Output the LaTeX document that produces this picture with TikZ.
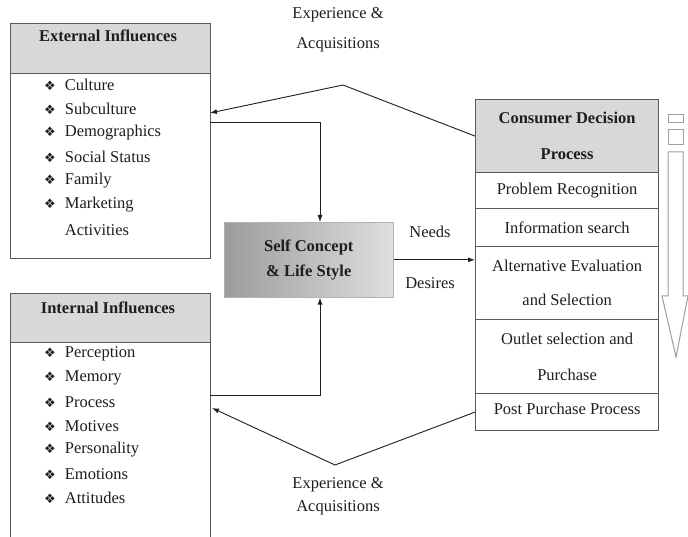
\documentclass[tikz,border=0pt]{standalone}
\usepackage{fontspec}
\setmainfont{Liberation Serif}
\newfontfamily\tnr{Liberation Serif}
\newfontfamily\symfont{DejaVu Sans}
\usetikzlibrary{arrows.meta,positioning,calc}
\definecolor{hdrgray}{RGB}{216,216,216}
\definecolor{boxline}{RGB}{90,90,90}
\definecolor{txt}{RGB}{30,30,30}
\tikzset{
  every node/.style={font=\tnr\fontsize{16.5}{19}\selectfont, text=txt},
  hdr/.style={draw=boxline, line width=1.2pt, fill=hdrgray, anchor=north west, inner sep=0pt},
  bodybox/.style={draw=boxline, line width=1.2pt, fill=white, anchor=north west, inner sep=0pt},
  row/.style={draw=boxline, line width=1.2pt, fill=white, anchor=north west, inner sep=0pt, minimum width=183pt, align=center},
  item/.style={anchor=west, inner sep=0pt},
  lbl/.style={align=center, inner sep=0pt},
  conn/.style={draw=txt, line width=0.9pt},
  arr/.style={conn, -{Latex[length=7pt,width=5pt]}},
}
\newcommand{\bul}{{\symfont\fontsize{13}{14}\selectfont ❖}\hspace{9pt}}
\newcommand{\bulgap}{{\symfont\fontsize{13}{14}\selectfont\phantom{❖}}\hspace{9pt}}
\begin{document}
\begin{tikzpicture}[x=1pt,y=-1pt]
\useasboundingbox (0,0) rectangle (688,537);
% External influences
\node[hdr, minimum width=200pt, minimum height=50pt] (exth) at (10,23) {};
\node[lbl, font=\tnr\fontsize{16.5}{19}\selectfont\bfseries] (extt) at (108,36) {External Influences};
\node[bodybox, minimum width=200pt, minimum height=185pt] (extb) at (10,73) {};
\node[item] (e1) at (44,85) {\bul Culture};
\node[item] (e2) at (44,109) {\bul Subculture};
\node[item] (e3) at (44,133) {\bul Demographics};
\node[item] (e4) at (44,157) {\bul Social Status};
\node[item] (e5) at (44,181) {\bul Family};
\node[item] (e6) at (44,205) {\bul Marketing};
\node[item] (e7) at (44,230) {\bulgap Activities};
% Internal influences
\node[hdr, minimum width=200pt, minimum height=49pt] (inth) at (10,293) {};
\node[lbl, font=\tnr\fontsize{16.5}{19}\selectfont\bfseries] (intt) at (108,308) {Internal Influences};
\node[bodybox, minimum width=200pt, minimum height=205pt] (intb) at (10,342) {};
\node[item] (i1) at (44,354) {\bul Perception};
\node[item] (i2) at (44,378) {\bul Memory};
\node[item] (i3) at (44,402) {\bul Process};
\node[item] (i4) at (44,426) {\bul Motives};
\node[item] (i5) at (44,450) {\bul Personality};
\node[item] (i6) at (44,474) {\bul Emotions};
\node[item] (i7) at (44,498) {\bul Attitudes};
% Self concept
\node[draw=gray!60, line width=0.6pt, anchor=north west, minimum width=169pt, minimum height=75pt,
      left color=gray!78, right color=gray!25, inner sep=0pt] (self) at (224,222) {};
\node[lbl, font=\tnr\fontsize{16.5}{25}\selectfont\bfseries] (selft) at (self.center) {Self Concept\\\& Life Style};
% Consumer decision process
\node[row, fill=hdrgray, minimum height=73pt] (cdh) at (475,99) {};
\node[lbl, font=\tnr\fontsize{16.5}{36}\selectfont\bfseries] (cdt) at (cdh.center) {Consumer Decision\\Process};
\node[row, minimum height=36pt] (r1) at (475,172) {Problem Recognition};
\node[row, minimum height=38pt] (r2) at (475,208) {Information search};
\node[row, minimum height=73pt, font=\tnr\fontsize{16.5}{34}\selectfont] (r3) at (475,246) {Alternative Evaluation\\and Selection};
\node[row, minimum height=74pt, font=\tnr\fontsize{16.5}{36}\selectfont] (r4) at (475,319) {Outlet selection and\\Purchase};
\node[row, minimum height=37pt] (r5) at (475,393) {\raisebox{6pt}{Post Purchase Process}};
% labels
\node[lbl, font=\tnr\fontsize{16.5}{30}\selectfont] (exptop) at (338,30) {Experience \&\\Acquisitions};
\node[lbl, font=\tnr\fontsize{16.5}{23}\selectfont] (expbot) at (338,496) {Experience \&\\Acquisitions};
\node[lbl] (needs) at (430,232) {Needs};
\node[lbl] (desires) at (430,283) {Desires};
% connectors
\coordinate (p1) at (343,85);
\coordinate (a1) at (210,113);
\draw[arr] (cdh.west) -- (p1) -- (a1);
\coordinate (b1) at (210,122);
\draw[arr] (b1) -- (320,122) -- (self.north -| 320,0);
\coordinate (b2) at (210,395);
\draw[arr] (b2) -- (320,395) -- (self.south -| 320,0);
\draw[arr] (self.east) -- (self.east -| r3.west);
\coordinate (p2) at (335,465);
\coordinate (a2) at (212,408);
\draw[arr] (r5.west) -- (p2) -- (a2);
% right side arrow
\draw[gray!75, line width=1pt] (668,115) rectangle (683,123);
\draw[gray!75, line width=1pt] (668,130) rectangle (683,145);
\draw[gray!75, line width=1pt, fill=white] (668,152) -- (683,152) -- (683,296) -- (688,296) -- (676,357) -- (662,296) -- (668,296) -- cycle;
\end{tikzpicture}
\end{document}
